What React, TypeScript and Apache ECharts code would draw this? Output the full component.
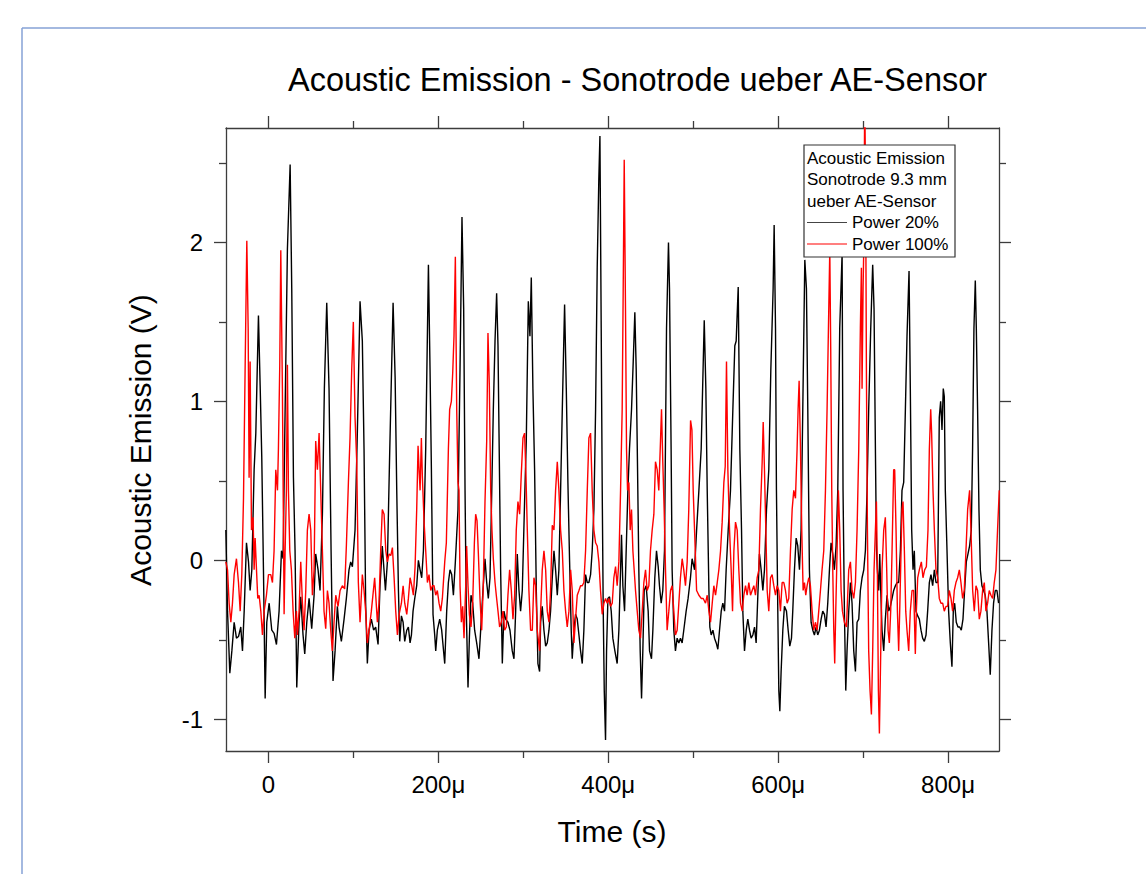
import { useEffect, useRef } from "react";
import * as echarts from "echarts";

const TITLE = "Acoustic Emission - Sonotrode ueber AE-Sensor";
const X_NAME = "Time (s)";
const Y_NAME = "Acoustic Emission (V)";
const LEGEND_HEAD = ["Acoustic Emission", "Sonotrode 9.3 mm", "ueber AE-Sensor"];
const SERIES_NAMES = ["Power 20%", "Power 100%"];
const SERIES_COLORS = ["#000000", "#ff0000"];

// time in microseconds
const X_MAJOR = [0, 200, 400, 600, 800];
const X_MINOR = [100, 300, 500, 700];
const Y_MAJOR = [-1, 0, 1, 2];
const Y_MINOR = [-0.5, 0.5, 1.5, 2.5];
const X_MIN = -50;
const X_MAX = 860;
const Y_MIN = -1.2;
const Y_MAX = 2.72;

const power20: [number, number][] = [
  [-50.2, 0.19], [-48.2, -0.32], [-45.5, -0.71], [-43.1, -0.57], [-40.4, -0.39], [-37.7, -0.49], [-35.3, -0.48],
  [-32.6, -0.42], [-30.6, -0.57], [-28.6, -0.32], [-25.9, 0.11], [-23.5, -0.01], [-21.6, -0.19], [-19.6, -0.06],
  [-16.9, 0.57], [-14.9, 0.8], [-11.8, 1.54], [-9.8, 1.1], [-7.9, 0.65], [-5.9, -0.06], [-3.9, -0.87], [-2.0, -0.39],
  [0.8, -0.27], [3.9, -0.44], [6.6, -0.46], [9.4, -0.53], [12.5, -0.32], [15.3, 0.06], [17.2, 0.01], [19.6, 0.95],
  [22.3, 1.96], [25.5, 2.49], [27.4, 1.71], [29.4, 0.52], [31.3, 0.06], [33.3, -0.8], [36.0, -0.39], [38.0, -0.23],
  [40.7, -0.47], [42.7, -0.59], [45.1, -0.39], [47.8, -0.24], [50.9, -0.43], [53.7, -0.22], [55.6, 0.04], [58.4, -0.06],
  [60.7, -0.19], [63.5, 0.29], [65.8, 1.08], [68.6, 1.62], [71.3, 1.08], [73.7, 0.06], [76.0, -0.76], [78.4, -0.57],
  [81.1, -0.29], [83.1, -0.42], [85.8, -0.51], [89.0, -0.37], [91.7, -0.24], [94.8, -0.06], [96.8, -0.01], [98.8, -0.04],
  [101.9, 0.19], [104.6, 0.8], [107.8, 1.63], [110.5, 1.38], [112.5, 0.7], [114.4, -0.27], [116.4, -0.65], [118.4, -0.44],
  [121.1, -0.37], [123.8, -0.44], [126.2, -0.42], [129.0, -0.53], [131.3, -0.16], [134.0, 0.09], [137.7, -0.19],
  [140.0, -0.01], [142.8, 0.7], [146.7, 1.62], [149.1, 1.15], [151.0, 0.44], [153.0, -0.19], [154.5, -0.51], [156.5, -0.35],
  [158.5, -0.39], [160.4, -0.51], [162.8, -0.44], [164.7, -0.42], [166.7, -0.52], [168.3, -0.47], [170.2, -0.32],
  [172.2, -0.24], [174.5, -0.16], [176.5, 0.0], [178.5, -0.06], [180.4, -0.11], [182.4, 0.06], [185.1, 0.7], [188.3, 1.86],
  [190.2, 1.2], [191.8, 0.57], [193.7, -0.34], [195.7, -0.47], [196.9, -0.57], [198.8, -0.44], [201.6, -0.37],
  [203.9, -0.44], [207.5, -0.65], [209.8, -0.32], [211.8, -0.14], [213.7, -0.06], [215.7, -0.09], [217.7, -0.22],
  [220.0, -0.01], [223.1, 0.32], [225.5, 1.2], [227.8, 2.16], [229.8, 1.58], [231.4, 0.44], [232.9, -0.32], [234.9, -0.8],
  [236.5, -0.49], [238.4, -0.22], [240.4, -0.27], [242.7, -0.44], [245.1, -0.52], [247.8, -0.62], [249.8, -0.44],
  [252.5, -0.19], [254.9, 0.01], [256.9, -0.14], [258.8, -0.24], [260.8, -0.11], [262.7, 0.39], [264.7, 0.95],
  [266.7, 1.38], [268.6, 1.68], [270.2, 1.35], [271.4, 0.8], [273.3, -0.06], [275.3, -0.65], [277.2, -0.32],
  [279.2, -0.37], [281.9, -0.39], [284.3, -0.44], [287.0, -0.57], [289.0, -0.62], [291.0, -0.32], [292.9, 0.04],
  [294.9, -0.19], [296.8, -0.32], [298.8, -0.19], [301.5, 0.37], [303.5, 0.75], [305.9, 1.63], [307.8, 1.41],
  [309.4, 1.78], [311.3, 1.08], [313.3, 0.57], [315.3, -0.19], [317.2, -0.65], [319.2, -0.7], [320.4, -0.39],
  [322.3, -0.29], [324.3, -0.44], [326.3, -0.54], [328.2, -0.52], [330.2, -0.44], [332.1, -0.32], [334.1, -0.11],
  [336.1, 0.06], [338.0, -0.06], [340.0, -0.22], [341.9, -0.06], [343.9, 0.44], [345.9, 0.95], [348.6, 1.61],
  [350.6, 1.08], [352.5, 0.49], [354.5, -0.01], [356.4, -0.44], [357.6, -0.62], [359.6, -0.44], [361.5, -0.34],
  [363.5, -0.37], [365.5, -0.47], [367.4, -0.57], [369.4, -0.65], [371.3, -0.44], [373.3, -0.09], [375.3, -0.14],
  [377.2, -0.14], [379.2, -0.09], [381.1, 0.06], [383.1, 0.32], [385.1, 0.95], [387.0, 1.84], [388.9, 2.4], [390.2, 2.67],
  [391.7, 1.46], [392.9, 0.44], [394.1, -0.32], [395.3, -0.82], [396.8, -1.13], [398.0, -0.57], [399.6, -0.24],
  [401.5, -0.23], [403.5, -0.32], [405.4, -0.49], [407.8, -0.57], [410.5, -0.65], [412.5, -0.44], [414.5, -0.06],
  [415.6, 0.16], [417.2, -0.16], [419.2, -0.32], [421.1, 0.06], [423.1, 0.44], [425.0, 0.7], [427.4, 0.95], [429.4, 1.25],
  [431.3, 1.56], [432.9, 1.2], [434.5, 0.57], [436.0, -0.06], [437.6, -0.57], [439.2, -0.87], [440.7, -0.57],
  [442.3, -0.19], [444.6, -0.16], [447.0, -0.32], [448.6, -0.57], [450.9, -0.62], [452.5, -0.44], [454.8, -0.11],
  [456.8, 0.06], [458.8, -0.04], [460.3, -0.16], [462.3, -0.27], [464.2, -0.19], [466.2, 0.06], [468.6, 1.46],
  [470.9, 2.0], [472.1, 1.71], [474.0, 0.7], [475.2, -0.06], [477.2, -0.44], [479.1, -0.57], [481.1, -0.49],
  [483.1, -0.52], [485.0, -0.49], [487.0, -0.52], [488.9, -0.44], [491.7, -0.32], [494.0, -0.24], [496.8, -0.11],
  [498.7, 0.01], [501.6, -0.06], [504.0, 0.19], [506.7, 0.44], [509.4, 0.7], [513.0, 1.51], [514.9, 1.08], [516.5, 0.44],
  [518.5, -0.19], [519.6, -0.42], [521.2, -0.47], [523.2, -0.44], [525.1, -0.49], [527.1, -0.52], [529.0, -0.56],
  [531.0, -0.44], [533.0, -0.32], [534.9, -0.27], [536.9, -0.32], [538.8, -0.06], [541.2, 0.19], [543.9, 0.44],
  [546.7, 0.95], [549.0, 1.35], [550.6, 1.38], [553.0, 1.72], [554.9, 0.7], [556.9, 0.19], [558.4, -0.32], [560.4, -0.57],
  [562.4, -0.44], [564.3, -0.37], [566.3, -0.44], [568.2, -0.49], [570.2, -0.47], [572.2, -0.42], [574.1, -0.52],
  [576.1, -0.22], [578.0, 0.04], [580.0, -0.06], [582.0, -0.19], [583.9, -0.06], [586.3, 0.32], [589.0, 0.57],
  [591.4, 1.2], [594.1, 1.71], [595.3, 2.11], [596.9, 1.46], [598.0, 0.44], [599.6, -0.32], [600.8, -0.82], [602.0, -0.95],
  [603.5, -0.7], [605.5, -0.44], [607.4, -0.29], [609.8, -0.32], [611.8, -0.44], [613.7, -0.54], [615.7, -0.49],
  [617.2, -0.32], [619.2, -0.06], [621.2, 0.14], [623.1, 0.09], [625.1, -0.06], [627.0, 0.19], [629.0, 0.95],
  [631.4, 1.89], [633.3, 1.71], [634.9, 0.95], [636.8, -0.06], [638.8, -0.39], [640.8, -0.44], [642.7, -0.47],
  [644.7, -0.42], [646.6, -0.47], [648.6, -0.44], [650.6, -0.37], [652.5, -0.32], [654.5, -0.34], [656.4, -0.42],
  [658.4, -0.27], [660.4, -0.06], [662.3, 0.11], [664.3, 0.04], [666.2, -0.06], [668.2, 0.09], [670.2, 0.44],
  [672.5, 1.46], [675.3, 1.93], [676.4, 0.44], [678.0, -0.32], [679.6, -0.82], [681.1, -0.57], [683.1, -0.32],
  [685.1, -0.14], [687.0, -0.27], [689.0, -0.57], [691.0, -0.7], [692.9, -0.39], [694.9, -0.37], [696.8, -0.19],
  [698.8, -0.11], [700.8, -0.06], [702.7, 0.06], [704.7, 0.44], [706.6, 0.95], [709.0, 1.46], [711.3, 1.86],
  [712.9, 1.58], [714.5, 0.7], [715.7, 0.09], [716.8, -0.06], [718.4, -0.19], [719.6, 0.04], [720.8, -0.19],
  [722.3, -0.44], [724.3, -0.57], [726.2, -0.37], [728.2, -0.22], [730.2, -0.32], [732.1, -0.29], [734.1, -0.24],
  [736.0, -0.19], [738.0, -0.16], [740.0, -0.14], [741.9, -0.14], [743.9, 0.06], [745.8, 0.44], [747.8, 0.49],
  [749.8, 0.95], [751.7, 1.41], [754.1, 1.82], [755.6, 1.08], [757.2, 0.19], [758.8, -0.06], [760.3, 0.06],
  [762.3, -0.32], [764.3, -0.35], [766.2, -0.37], [768.2, -0.44], [770.1, -0.49], [772.1, -0.51], [774.1, -0.47],
  [776.0, -0.32], [778.0, -0.14], [779.9, -0.09], [781.9, -0.16], [783.9, -0.06], [785.8, -0.14], [787.8, -0.14],
  [789.7, 0.9], [791.3, 1.0], [792.9, 0.82], [794.4, 1.08], [795.6, 1.03], [796.8, 0.44], [798.8, 0.06], [800.7, -0.32],
  [802.7, -0.52], [804.6, -0.67], [806.2, -0.32], [807.8, -0.27], [809.7, -0.39], [811.7, -0.42], [813.7, -0.42],
  [815.6, -0.44], [817.6, -0.37], [819.5, -0.19], [821.5, -0.01], [823.5, 0.04], [825.4, 0.09], [827.4, 0.19],
  [828.9, 0.7], [830.5, 1.46], [832.1, 1.76], [833.3, 1.46], [834.8, 0.95], [836.4, 0.32], [838.0, -0.06],
  [839.9, -0.16], [841.9, -0.19], [843.8, -0.22], [845.8, -0.32], [847.8, -0.52], [849.7, -0.72], [851.7, -0.44],
  [853.6, -0.27], [855.6, -0.19], [857.6, -0.19], [859.5, -0.27],
];

const power100: [number, number][] = [
  [-50.2, -0.01], [-48.2, -0.06], [-46.3, -0.27], [-44.3, -0.39], [-42.4, -0.27], [-40.4, -0.09], [-37.7, 0.01],
  [-35.3, -0.14], [-33.3, -0.32], [-31.4, -0.09], [-29.4, 0.39], [-27.5, 1.2], [-25.5, 2.01], [-23.9, 1.46],
  [-22.8, 0.52], [-21.6, 1.25], [-20.0, 0.19], [-18.1, 0.27], [-16.9, -0.06], [-15.7, 0.14], [-14.1, -0.06],
  [-12.6, -0.24], [-11.0, -0.22], [-9.0, -0.32], [-7.1, -0.47], [-5.1, -0.32], [-2.4, -0.22], [0.0, -0.09], [2.7, -0.09],
  [4.7, -0.14], [6.6, 0.06], [8.6, 0.57], [10.6, 0.44], [11.7, 0.7], [13.3, 1.23], [14.5, 1.95], [16.4, 1.08],
  [18.4, -0.34], [19.6, 0.06], [21.1, 0.44], [22.3, 1.23], [23.5, 0.44], [25.1, 0.06], [27.0, -0.06], [29.0, -0.32],
  [31.0, -0.49], [32.9, -0.32], [34.1, -0.47], [36.0, -0.32], [38.0, -0.01], [40.0, -0.27], [41.9, -0.44],
  [43.9, -0.19], [45.8, 0.19], [47.8, 0.29], [49.8, 0.19], [51.7, -0.22], [53.7, -0.06], [55.6, 0.75], [57.6, 0.57],
  [59.6, 0.8], [61.5, 0.44], [63.5, 0.06], [65.4, -0.32], [67.4, -0.43], [69.4, -0.19], [71.3, -0.27], [73.3, -0.44],
  [75.2, -0.57], [77.2, -0.39], [79.2, -0.22], [81.9, -0.29], [84.3, -0.19], [87.0, -0.16], [89.7, -0.18], [91.7, 0.09],
  [94.1, 0.49], [96.0, 0.77], [98.0, 1.2], [99.9, 1.5], [101.9, 0.9], [103.9, 0.62], [105.8, -0.14], [107.8, -0.39],
  [110.5, -0.09], [112.5, -0.19], [114.4, -0.32], [116.4, -0.52], [118.4, -0.44], [121.1, -0.32], [125.0, -0.11],
  [128.2, -0.39], [130.1, -0.27], [132.1, 0.06], [134.0, 0.32], [136.1, 0.29], [138.1, 0.06], [140.0, -0.01],
  [142.0, 0.04], [144.0, 0.03], [145.9, 0.08], [147.9, -0.11], [149.8, -0.32], [151.8, -0.47], [153.8, -0.34],
  [156.5, -0.27], [158.5, -0.16], [160.4, -0.27], [162.8, -0.34], [164.7, -0.24], [166.7, -0.11], [168.7, -0.16],
  [170.6, -0.22], [172.6, -0.04], [174.5, 0.32], [176.1, 0.72], [177.3, 0.57], [178.5, 0.44], [180.0, 0.77],
  [181.2, 0.52], [183.2, 0.24], [185.1, 0.06], [187.1, -0.14], [189.0, -0.09], [191.0, -0.19], [193.0, -0.16],
  [194.9, -0.16], [196.9, -0.22], [198.8, -0.19], [200.8, -0.27], [202.8, -0.32], [204.7, -0.24], [207.5, -0.01],
  [209.4, 0.11], [211.8, 0.7], [213.3, 0.95], [215.3, 1.0], [216.9, 1.18], [218.4, 1.41], [220.0, 1.91], [221.6, 0.95],
  [223.1, 0.49], [224.3, 0.44], [225.5, -0.16], [227.1, -0.39], [228.6, -0.29], [230.2, -0.49], [232.2, -0.16],
  [233.3, 0.09], [234.9, -0.16], [236.5, -0.34], [238.4, -0.42], [240.4, -0.27], [242.4, 0.11], [243.9, 0.29],
  [245.5, 0.25], [247.1, 0.04], [249.0, -0.24], [251.0, -0.44], [252.9, -0.16], [254.9, 0.37], [256.9, 0.75],
  [258.4, 1.43], [260.0, 1.1], [261.6, 0.44], [263.1, 0.19], [264.7, 0.01], [266.7, -0.14], [268.2, -0.22],
  [270.2, -0.32], [272.1, -0.42], [274.1, -0.39], [276.1, -0.32], [278.0, -0.44], [280.0, -0.42], [281.9, -0.22],
  [283.9, -0.06], [285.9, -0.19], [287.8, -0.37], [289.8, -0.22], [291.7, 0.19], [293.7, 0.37], [295.7, 0.29],
  [297.6, 0.54], [299.6, 0.77], [301.5, 0.8], [303.1, 0.54], [304.7, 0.19], [306.6, -0.19], [308.6, -0.44],
  [310.6, -0.44], [312.5, -0.11], [314.5, -0.16], [316.4, -0.44], [319.2, -0.57], [320.4, -0.32], [322.3, -0.06],
  [324.3, 0.06], [326.3, -0.06], [328.2, -0.32], [330.2, -0.39], [332.1, -0.19], [334.1, 0.22], [336.1, 0.19],
  [338.0, 0.44], [340.0, 0.62], [341.9, 0.44], [343.9, 0.19], [345.9, 0.06], [347.8, -0.19], [349.8, -0.32],
  [351.7, -0.42], [353.7, -0.32], [355.7, -0.06], [357.6, -0.19], [359.6, -0.52], [361.5, -0.37], [363.5, -0.22],
  [365.5, -0.19], [367.4, -0.16], [369.4, -0.16], [371.3, -0.14], [373.3, 0.06], [375.3, 0.44], [377.2, 0.77],
  [379.2, 0.8], [381.1, 0.44], [383.1, 0.19], [385.1, 0.11], [387.0, 0.09], [389.0, -0.01], [390.9, -0.19],
  [392.9, -0.34], [394.9, -0.27], [396.8, -0.24], [398.8, -0.27], [400.7, -0.24], [402.7, -0.29], [404.7, -0.27],
  [406.6, -0.11], [408.6, -0.04], [410.5, -0.16], [412.5, -0.01], [414.5, 0.44], [416.4, 0.95], [417.6, 1.71],
  [418.8, 2.52], [420.3, 1.58], [421.5, 0.7], [422.7, 0.44], [424.3, 0.49], [425.8, 0.19], [427.4, 0.32], [429.0, 0.06],
  [430.5, -0.06], [432.1, -0.19], [434.1, -0.32], [436.0, -0.44], [438.0, -0.49], [440.0, -0.32], [441.9, -0.14],
  [443.9, -0.06], [445.8, -0.19], [447.8, -0.16], [449.7, 0.06], [451.7, 0.19], [453.7, 0.29], [455.6, 0.62],
  [457.6, 0.57], [459.5, 0.44], [461.5, 0.75], [462.7, 0.95], [464.2, 0.62], [465.8, 0.32], [467.4, -0.06],
  [469.3, -0.44], [471.3, -0.32], [473.3, -0.19], [475.2, -0.16], [477.2, -0.32], [479.1, -0.47], [481.1, -0.44],
  [483.1, -0.27], [485.0, -0.11], [487.0, 0.01], [488.9, -0.06], [490.9, -0.16], [492.9, -0.01], [494.8, 0.32],
  [496.9, 0.88], [498.5, 0.82], [500.0, 0.44], [501.6, 0.19], [504.0, -0.19], [506.7, -0.22], [509.4, -0.24],
  [511.8, -0.24], [514.5, -0.27], [516.5, -0.22], [518.5, -0.32], [520.4, -0.39], [522.4, -0.27], [524.3, -0.16],
  [526.3, -0.22], [528.3, -0.14], [530.2, -0.06], [532.2, 0.06], [534.1, 0.24], [536.1, 0.49], [537.7, 0.59],
  [539.2, 1.25], [540.8, 0.57], [542.8, 0.19], [544.7, -0.06], [546.3, -0.32], [547.9, 0.06], [549.8, 0.24],
  [551.8, 0.19], [553.7, -0.06], [555.7, -0.27], [557.7, -0.32], [559.6, -0.22], [561.6, -0.16], [563.5, -0.22],
  [565.5, -0.14], [567.5, -0.22], [569.4, -0.19], [571.4, -0.16], [573.3, -0.22], [575.3, -0.11], [577.3, -0.06],
  [579.2, 0.32], [581.2, 0.62], [582.4, 0.87], [583.9, 0.57], [585.5, 0.19], [587.1, -0.19], [589.0, -0.32],
  [591.0, -0.11], [592.9, -0.09], [594.9, -0.16], [596.9, -0.22], [598.8, -0.16], [600.8, -0.19], [602.7, -0.32],
  [604.7, -0.14], [606.7, -0.14], [608.6, -0.19], [610.6, -0.27], [612.5, -0.24], [614.5, 0.06], [616.5, 0.32],
  [618.4, 0.44], [620.4, 0.39], [622.3, 0.7], [623.5, 0.95], [624.7, 1.13], [626.3, 0.7], [627.8, 0.19], [629.4, -0.19],
  [631.0, -0.14], [632.5, -0.22], [634.1, -0.16], [636.1, -0.11], [638.0, -0.16], [640.0, -0.32], [642.0, -0.44],
  [643.9, -0.39], [645.9, -0.44], [647.8, -0.32], [649.8, -0.19], [651.7, -0.06], [653.7, 0.06], [655.7, 0.44],
  [657.6, 0.95], [659.2, 1.46], [660.8, 1.95], [661.9, 1.33], [663.1, 0.44], [664.3, -0.06], [665.5, -0.44],
  [666.6, -0.65], [667.8, -0.32], [669.4, 0.06], [670.9, 0.44], [672.5, 0.19], [674.1, -0.19], [675.7, -0.32],
  [678.0, -0.39], [680.4, -0.42], [683.1, -0.06], [685.1, -0.01], [687.0, -0.19], [689.0, -0.24], [691.0, -0.14],
  [692.9, 0.19], [694.9, 0.7], [696.8, 1.46], [698.0, 1.84], [698.8, 1.08], [700.0, 1.71], [701.2, 2.09], [701.9, 3.0],
  [703.1, 2.22], [703.9, 1.2], [705.1, 0.19], [706.6, -0.57], [708.2, -0.82], [709.8, -0.97], [711.3, -0.57],
  [712.9, -0.06], [714.5, 0.19], [715.7, 0.37], [716.8, -0.06], [718.0, -0.82], [719.2, -1.09], [720.8, -0.57],
  [722.3, -0.06], [724.3, 0.19], [726.2, 0.27], [727.8, -0.06], [729.4, -0.44], [730.9, -0.52], [732.5, -0.32],
  [734.1, 0.06], [736.0, 0.57], [737.2, 0.57], [738.8, 0.19], [740.4, -0.32], [741.9, -0.57], [743.1, -0.32],
  [744.7, 0.06], [745.8, 0.32], [747.0, 0.37], [748.6, 0.06], [750.2, -0.32], [751.7, -0.44], [753.7, -0.57],
  [755.6, -0.32], [757.6, -0.19], [759.6, -0.19], [761.5, -0.59], [762.7, -0.32], [764.3, -0.11], [766.2, -0.06],
  [768.6, -0.01], [770.5, -0.11], [772.5, -0.06], [774.5, -0.04], [776.4, 0.19], [778.0, 0.7], [779.6, 0.95],
  [780.7, 0.8], [782.3, 0.44], [783.9, 0.19], [785.8, -0.06], [787.8, -0.11], [789.7, -0.24], [791.7, -0.27],
  [793.7, -0.27], [795.6, -0.32], [797.6, -0.29], [799.5, -0.29], [801.5, -0.19], [803.5, -0.24], [805.4, -0.32],
  [807.4, -0.19], [809.3, -0.14], [811.3, -0.11], [813.3, -0.06], [815.2, -0.14], [817.2, -0.24], [819.1, -0.19],
  [821.1, 0.06], [823.1, 0.32], [825.4, 0.44], [827.0, 0.19], [829.0, -0.19], [830.9, -0.32], [832.9, -0.16],
  [834.8, -0.19], [836.8, -0.37], [838.7, -0.32], [840.7, -0.19], [842.7, -0.14], [844.6, -0.32], [846.6, -0.27],
  [848.5, -0.19], [850.5, -0.22], [852.5, -0.24], [854.4, -0.14], [856.4, -0.06], [858.3, 0.19], [860.3, 0.44],
];

const FONT = "'Liberation Sans', Arial, sans-serif";
const AXIS_COLOR = "#3c3c3c";

function xAxisDef(position: "bottom" | "top", values: number[], len: number, labels: boolean, line: boolean) {
  return {
    type: "value",
    position,
    min: X_MIN,
    max: X_MAX,
    axisLine: { show: line, onZero: false, lineStyle: { color: AXIS_COLOR, width: 1.3 } },
    axisTick: { show: true, inside: false, length: len, customValues: values, lineStyle: { color: AXIS_COLOR, width: 1.3 } },
    axisLabel: labels
      ? {
          show: true,
          customValues: values,
          margin: 21,
          color: "#000",
          fontFamily: FONT,
          fontSize: 24,
          formatter: (v: number) => (v === 0 ? "0" : `${v}\u03bc`),
        }
      : { show: false },
    splitLine: { show: false },
  };
}

function yAxisDef(position: "left" | "right", values: number[], len: number, labels: boolean, line: boolean) {
  return {
    type: "value",
    position,
    min: Y_MIN,
    max: Y_MAX,
    axisLine: { show: line, onZero: false, lineStyle: { color: AXIS_COLOR, width: 1.3 } },
    axisTick: { show: true, inside: false, length: len, customValues: values, lineStyle: { color: AXIS_COLOR, width: 1.3 } },
    axisLabel: labels
      ? {
          show: true,
          customValues: values,
          margin: 23,
          color: "#000",
          fontFamily: FONT,
          fontSize: 24,
          formatter: (v: number) => `${v}`,
        }
      : { show: false },
    splitLine: { show: false },
  };
}

export default function App() {
  const ref = useRef<HTMLDivElement>(null);

  useEffect(() => {
    if (!ref.current) return;
    const chart = echarts.init(ref.current, undefined, { renderer: "svg" });

    const legendX = 804;
    const legendY = 145;
    const legendW = 151;
    const legendH = 112;
    const lineGap = 21.5;
    const firstLine = 158;

    const legendTexts: any[] = LEGEND_HEAD.map((t, i) => ({
      type: "text",
      z: 101,
      x: 807,
      y: firstLine + i * lineGap,
      style: { text: t, fill: "#000", font: `17px ${FONT}`, verticalAlign: "middle", align: "left" },
    }));
    SERIES_NAMES.forEach((name, i) => {
      const y = firstLine + (LEGEND_HEAD.length + i) * lineGap;
      legendTexts.push({
        type: "line",
        z: 101,
        shape: { x1: 807, y1: y, x2: 847, y2: y },
        style: { stroke: i === 0 ? "#444" : SERIES_COLORS[i], lineWidth: 1.2 },
      });
      legendTexts.push({
        type: "text",
        z: 101,
        x: 852,
        y,
        style: { text: name, fill: "#000", font: `17px ${FONT}`, verticalAlign: "middle", align: "left" },
      });
    });

    chart.setOption({
      animation: false,
      backgroundColor: "#ffffff",
      grid: { left: 226, right: 147, top: 128, bottom: 123, containLabel: false },
      xAxis: [
        xAxisDef("bottom", X_MAJOR, 12, true, true),
        xAxisDef("bottom", X_MINOR, 7, false, false),
        xAxisDef("top", X_MAJOR, 12, false, true),
        xAxisDef("top", X_MINOR, 7, false, false),
      ],
      yAxis: [
        yAxisDef("left", Y_MAJOR, 12, true, true),
        yAxisDef("left", Y_MINOR, 7, false, false),
        yAxisDef("right", Y_MAJOR, 12, false, true),
        yAxisDef("right", Y_MINOR, 7, false, false),
      ],
      series: [
        {
          name: SERIES_NAMES[0],
          type: "line",
          xAxisIndex: 0,
          yAxisIndex: 0,
          data: power20,
          showSymbol: false,
          symbol: "none",
          clip: true,
          lineStyle: { color: SERIES_COLORS[0], width: 1.4 },
          z: 2,
        },
        {
          name: SERIES_NAMES[1],
          type: "line",
          xAxisIndex: 0,
          yAxisIndex: 0,
          data: power100,
          showSymbol: false,
          symbol: "none",
          clip: true,
          lineStyle: { color: SERIES_COLORS[1], width: 1.4 },
          z: 3,
        },
      ],
      graphic: [
        {
          type: "line",
          z: 100,
          shape: { x1: 22, y1: 28, x2: 1146, y2: 28 },
          style: { stroke: "#86a2d6", lineWidth: 1.5 },
        },
        {
          type: "line",
          z: 100,
          shape: { x1: 22, y1: 28, x2: 22, y2: 874 },
          style: { stroke: "#86a2d6", lineWidth: 1.5 },
        },
        {
          type: "text",
          z: 100,
          x: 288,
          y: 80,
          style: { text: TITLE, fill: "#000", font: `32.5px ${FONT}`, align: "left", verticalAlign: "middle" },
        },
        {
          type: "text",
          z: 100,
          x: 612,
          y: 831,
          style: { text: X_NAME, fill: "#000", font: `30px ${FONT}`, align: "center", verticalAlign: "middle" },
        },
        {
          type: "text",
          z: 100,
          x: 140,
          y: 440,
          rotation: Math.PI / 2,
          style: { text: Y_NAME, fill: "#000", font: `30px ${FONT}`, align: "center", verticalAlign: "middle" },
        },
        {
          type: "rect",
          z: 100,
          shape: { x: legendX, y: legendY, width: legendW, height: legendH },
          style: { fill: "#ffffff", stroke: "#333", lineWidth: 1.2 },
        },
        ...legendTexts,
      ],
    });

    return () => {
      chart.dispose();
    };
  }, []);

  return (
    <div
      ref={ref}
      style={{ position: "absolute", left: 0, top: 0, width: 1146, height: 874, background: "#fff" }}
    />
  );
}
